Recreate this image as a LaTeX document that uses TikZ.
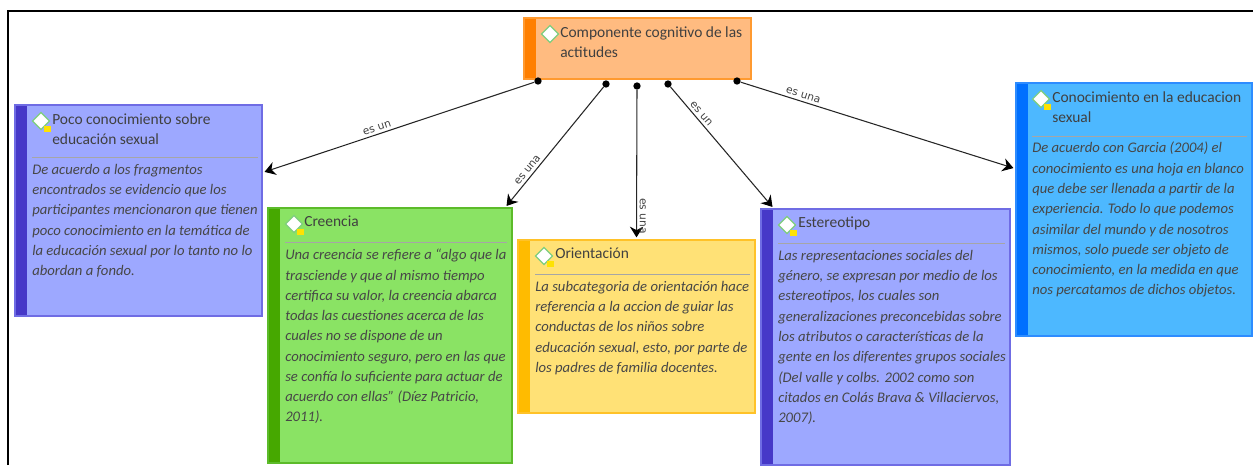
\documentclass[tikz,border=0pt]{standalone}
\usepackage{fontspec}
\setmainfont{Carlito}
\newfontfamily\linkfont{DejaVu Sans}
\usetikzlibrary{arrows.meta,shapes.geometric}
\definecolor{orangefill}{HTML}{FFBB80}
\definecolor{orangeline}{HTML}{FF9A30}
\definecolor{orangebar}{HTML}{FF7F00}
\definecolor{violetfill}{HTML}{9DA8FF}
\definecolor{violetline}{HTML}{6F6CE4}
\definecolor{violetbar}{HTML}{4638C8}
\definecolor{greenfill}{HTML}{8AE364}
\definecolor{greenline}{HTML}{5CBB2A}
\definecolor{greenbar}{HTML}{46A800}
\definecolor{yellowfill}{HTML}{FFE176}
\definecolor{yellowline}{HTML}{FFC228}
\definecolor{yellowbar}{HTML}{FFBB00}
\definecolor{bluefill}{HTML}{4DB8FF}
\definecolor{blueline}{HTML}{2D8CFF}
\definecolor{bluebar}{HTML}{0070FF}
\tikzset{
  notebox/.style n args={3}{draw=#2,fill=#1,line width=.8pt,inner sep=0pt,outer sep=0pt,
    path picture={\fill[#3] (path picture bounding box.north west) rectangle
      ([xshift=9pt]path picture bounding box.south west);}},
  titletext/.style={anchor=north west,inner sep=0pt,align=left,text=black!75,
    font=\fontsize{11.6}{15}\selectfont},
  bodytext/.style={anchor=north west,inner sep=0pt,align=left,text=black!72,
    font=\fontsize{11}{15.2}\selectfont\itshape},
  sepline/.style={black!35,line width=.7pt},
  icon/.style={diamond,draw=green!45!gray!70,fill=white,line width=.9pt,inner sep=0pt,minimum size=13pt},
  noteicon/.style={rectangle,fill=yellow!85!orange,inner sep=0pt,minimum size=5pt},
  tail/.style={circle,fill=black,inner sep=0pt,minimum size=5.5pt},
  linkarrow/.style={thick,black!85,-{Stealth[length=8pt,width=10pt,black]},shorten >=2pt},
  linktext/.style={sloped,above,inner sep=2pt,text=black!75,font=\linkfont\fontsize{8}{9}\selectfont},
}
\begin{document}
\begin{tikzpicture}[x=.75pt,y=-.75pt]
  \useasboundingbox (0,0) rectangle (1253,465);
  \draw[line width=1.5pt] (8,465) -- (8,10.5) -- (1253,10.5);

  % boxes
  \node[notebox={orangefill}{orangeline}{orangebar},minimum width=170.25pt,minimum height=45.75pt] (comp) at (637.5,48.5) {};
  \node[notebox={violetfill}{violetline}{violetbar},minimum width=185.25pt,minimum height=158.25pt] (poco) at (138.5,210.5) {};
  \node[notebox={greenfill}{greenline}{greenbar},minimum width=183pt,minimum height=191.25pt] (creencia) at (390,335.5) {};
  \node[notebox={yellowfill}{yellowline}{yellowbar},minimum width=177.75pt,minimum height=129.75pt] (orient) at (636.5,326.5) {};
  \node[notebox={violetfill}{violetline}{violetbar},minimum width=186.75pt,minimum height=192pt] (estereo) at (885.5,337) {};
  \node[notebox={bluefill}{blueline}{bluebar},minimum width=177pt,minimum height=189.75pt] (conoc) at (1134,209.5) {};

  % titles
  \node[icon] (compicon) at (550,34) {};
  \node[titletext] (comptitle) at (560,26) {Componente cognitivo de las\\actitudes};

  \node[icon] (pocoicon) at (41,121) {};
  \node[noteicon] (pocoref) at (47.5,129) {};
  \node[titletext] (pocotitle) at (52,113) {Poco conocimiento sobre\\educación sexual};
  \draw[sepline] (32,157.5) -- (258,157.5);
  \node[bodytext] (pocotext) at (32,164) {De acuerdo a los fragmentos\\encontrados se evidencio que los\\participantes mencionaron que tienen\\poco conocimiento en la temática de\\la educación sexual por lo tanto no lo\\abordan a fondo.};

  \node[icon] (creenciaicon) at (294,224) {};
  \node[noteicon] (creenciaref) at (300.5,232) {};
  \node[titletext] (creenciatitle) at (304,216) {Creencia};
  \draw[sepline] (285,242) -- (507,242);
  \node[bodytext] (creenciatext) at (285,249) {Una creencia se refiere a “algo que la\\trasciende y que al mismo tiempo\\certifica su valor, la creencia abarca\\todas las cuestiones acerca de las\\cuales no se dispone de un\\conocimiento seguro, pero en las que\\se confía lo suficiente para actuar de\\acuerdo con ellas” (Díez Patricio,\\2011).};

  \node[icon] (orienticon) at (544,256) {};
  \node[noteicon] (orientref) at (550.5,264) {};
  \node[titletext] (orienttitle) at (555,248) {Orientación};
  \draw[sepline] (535,274) -- (750,274);
  \node[bodytext] (orienttext) at (535,281) {La subcategoria de orientación hace\\referencia a la accion de guiar las\\conductas de los niños sobre\\educación sexual, esto, por parte de\\los padres de familia docentes.};

  \node[icon] (estereoicon) at (787,225) {};
  \node[noteicon] (estereoref) at (793.5,233) {};
  \node[titletext] (estereotitle) at (798,217) {Estereotipo};
  \draw[sepline] (778,243) -- (1005,243);
  \node[bodytext] (estereotext) at (778,250) {Las representaciones sociales del\\género, se expresan por medio de los\\estereotipos, los cuales son\\generalizaciones preconcebidas sobre\\los atributos o características de la\\gente en los diferentes grupos sociales\\(Del valle y colbs. 2002 como son\\citados en Colás Brava \& Villaciervos,\\2007).};

  \node[icon] (conocicon) at (1041,99) {};
  \node[noteicon] (conocref) at (1047.5,107) {};
  \node[titletext] (conoctitle) at (1052,91) {Conocimiento en la educacion\\sexual};
  \draw[sepline] (1032,136) -- (1247,136);
  \node[bodytext] (conoctext) at (1032,142) {De acuerdo con Garcia (2004) el\\conocimiento es una hoja en blanco\\que debe ser llenada a partir de la\\experiencia. Todo lo que podemos\\asimilar del mundo y de nosotros\\mismos, solo puede ser objeto de\\conocimiento, en la medida en que\\nos percatamos de dichos objetos.};

  % links
  \node[tail] (taila) at (538,81) {};
  \node[tail] (tailb) at (606,84) {};
  \node[tail] (tailc) at (637,86) {};
  \node[tail] (taild) at (668,84) {};
  \node[tail] (taile) at (737,81) {};
  \draw[linkarrow] (taila) -- node[linktext,pos=.57] {es un} (poco.17.3);
  \draw[linkarrow] (tailb) -- node[linktext,pos=.72] {es una} (creencia.48.5);
  \draw[linkarrow] (tailc) -- node[linktext,pos=.84,rotate=180] {es una} (orient.north);
  \draw[linkarrow] (taild) -- node[linktext,pos=.25] {es un} (estereo.131.3);
  \draw[linkarrow] (taile) -- node[linktext,pos=.22] {es una} (conoc.161.1);
\end{tikzpicture}
\end{document}
